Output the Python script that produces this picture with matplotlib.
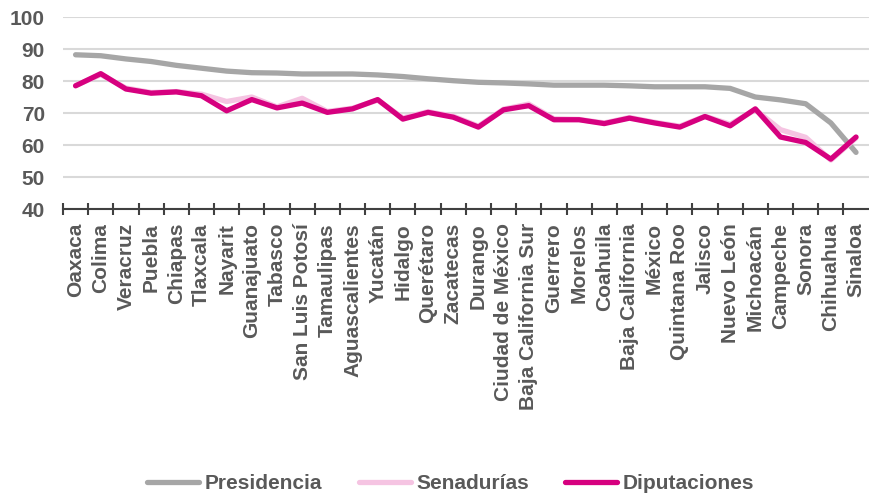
import matplotlib
matplotlib.use("Agg")
import matplotlib.pyplot as plt

# categories (states) and values
estados = ["Oaxaca", "Colima", "Veracruz", "Puebla", "Chiapas", "Tlaxcala", "Nayarit",
           "Guanajuato", "Tabasco", "San Luis Potosí", "Tamaulipas", "Aguascalientes",
           "Yucatán", "Hidalgo", "Querétaro", "Zacatecas", "Durango", "Ciudad de México",
           "Baja California Sur", "Guerrero", "Morelos", "Coahuila", "Baja California",
           "México", "Quintana Roo", "Jalisco", "Nuevo León", "Michoacán", "Campeche",
           "Sonora", "Chihuahua", "Sinaloa"]

presidencia = [88.2, 87.9, 86.9, 86.1, 84.9, 84.0, 83.1, 82.6, 82.5, 82.2, 82.2, 82.2,
               81.9, 81.4, 80.7, 80.1, 79.6, 79.4, 79.1, 78.7, 78.7, 78.7, 78.5, 78.2,
               78.2, 78.2, 77.7, 75.0, 74.1, 72.9, 66.9, 57.7]

senadurias = [78.6, 82.0, 77.8, 76.4, 76.7, 75.9, 73.6, 75.0, 71.9, 74.6, 70.5, 71.5,
              74.0, 68.5, 70.4, 69.0, 65.9, 71.2, 72.8, 68.2, 68.0, 66.9, 68.6, 67.1,
              65.9, 69.0, 66.5, 71.0, 64.8, 62.4, 55.3, 62.2]

diputaciones = [78.5, 82.3, 77.5, 76.2, 76.6, 75.4, 70.7, 74.2, 71.6, 73.1, 70.2, 71.3,
                74.2, 68.1, 70.2, 68.7, 65.6, 71.0, 72.3, 67.9, 67.9, 66.7, 68.4, 66.9,
                65.6, 68.9, 66.0, 71.3, 62.5, 60.8, 55.6, 62.5]

txt = "#595959"
plt.rcParams["font.family"] = ["Liberation Sans", "DejaVu Sans"]
plt.rcParams["font.weight"] = "bold"

fig = plt.figure(figsize=(8.7, 4.93), dpi=100)
ax = fig.add_axes([0.0724, 0.576, 0.926, 0.3895])

x = list(range(len(estados)))
kw = dict(lw=3.8, solid_capstyle="round", solid_joinstyle="round")
ax.plot(x, presidencia, color="#A6A6A6", label="Presidencia", **kw)
ax.plot(x, senadurias, color="#F5C4E2", label="Senadurías", **kw)
ax.plot(x, diputaciones, color="#D6007F", label="Diputaciones", **kw)

ax.set_xlim(-0.5, len(estados) - 0.5)
ax.set_ylim(40, 100)
ax.set_yticks(range(40, 101, 10))
ax.grid(axis="y", color="#D9D9D9", lw=1.5)
ax.set_axisbelow(True)

for s in ["top", "right", "left"]:
    ax.spines[s].set_visible(False)
ax.spines["bottom"].set_color("#404040")
ax.spines["bottom"].set_linewidth(1.5)
ax.spines["bottom"].set_zorder(1)

ax.set_xticks(x)
ax.set_xticklabels(estados, rotation=90, fontsize=15, color=txt)
ax.set_xticks([i - 0.5 for i in range(len(estados))], minor=True)
ax.tick_params(axis="x", which="major", length=0, pad=10)
ax.tick_params(axis="x", which="minor", direction="inout", length=9, width=1.5, color="#404040")
ax.tick_params(axis="y", length=0, pad=13, labelsize=15, labelcolor=txt)

fig.legend(loc="lower center", bbox_to_anchor=(0.518, -0.03), ncol=3, frameon=False,
           fontsize=15, labelcolor=txt, handlelength=2.5, handletextpad=0.25,
           columnspacing=1.75, borderaxespad=0.3)

fig.savefig("out.png", dpi=100)
